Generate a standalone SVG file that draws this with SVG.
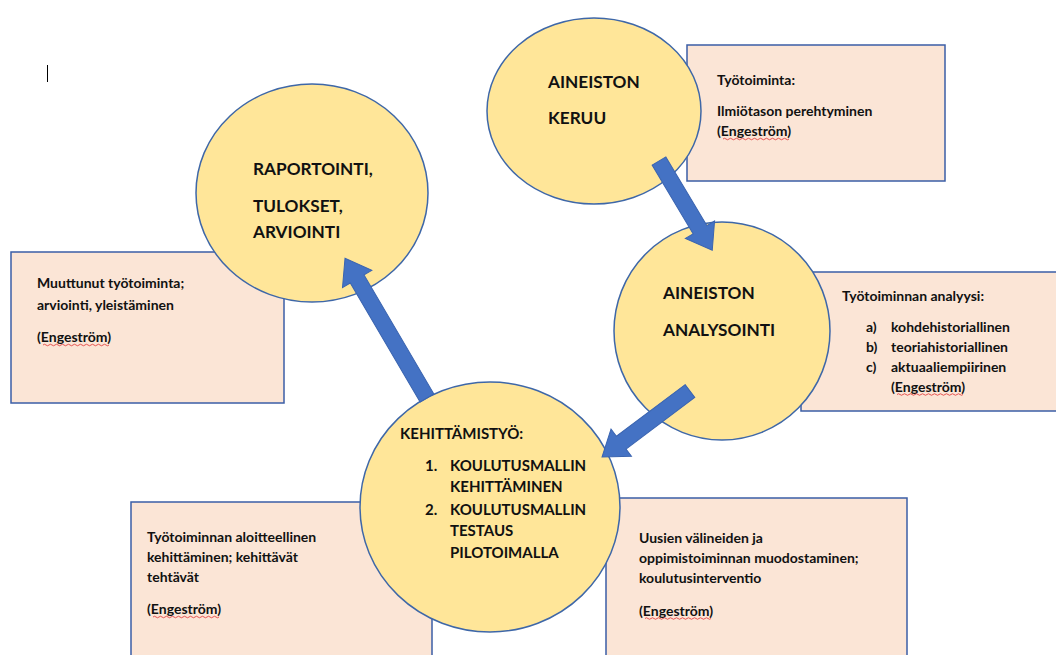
<svg xmlns="http://www.w3.org/2000/svg" xmlns:xlink="http://www.w3.org/1999/xlink" width="1056" height="655" viewBox="0 0 1056 655">
  <style>
    .box { fill: #FBE5D6; stroke: #3B5EA6; stroke-width: 1.5; }
    .stage { fill: #FFE699; stroke: #3E67A8; stroke-width: 1.5; }
    .arrow { fill: #4472C4; stroke: #3A64B0; stroke-width: 1; }
    .t { font-family: Lato, "Liberation Sans", sans-serif; font-weight: bold; fill: #111; }
    .sm { font-size: 14px; }
    .lg { font-size: 17.2px; }
    .md { font-size: 15px; }
    .squig { fill: none; stroke: #E03030; stroke-width: 0.8; }
  </style>
  <defs>
    <!-- spell-check wavy underline, 66px long -->
    <path id="wave" class="squig" d="M0,0 q1.5,-1.5 3,0 t3,0 t3,0 t3,0 t3,0 t3,0 t3,0 t3,0 t3,0 t3,0 t3,0 t3,0 t3,0 t3,0 t3,0 t3,0 t3,0 t3,0 t3,0 t3,0 t3,0 t3,0"/>
  </defs>

  <rect width="1056" height="655" fill="#FFFFFF"/>

  <!-- text cursor -->
  <line x1="47.5" y1="65" x2="47.5" y2="82" stroke="#000" stroke-width="1"/>

  <!-- description boxes -->
  <g id="box-muuttunut">
    <rect class="box" x="11" y="252" width="273" height="151"/>
    <text class="t sm" x="37" y="288">Muuttunut työtoiminta;</text>
    <text class="t sm" x="37" y="310">arviointi, yleistäminen</text>
    <text class="t sm" x="37" y="342">(Engeström)</text>
    <use xlink:href="#wave" x="43" y="345"/>
  </g>

  <g id="box-tyotoiminta">
    <rect class="box" x="687" y="45" width="258" height="136"/>
    <text class="t sm" x="717" y="85">Työtoiminta:</text>
    <text class="t sm" x="717" y="115.5">Ilmiötason perehtyminen</text>
    <text class="t sm" x="717" y="136">(Engeström)</text>
    <use xlink:href="#wave" x="723" y="139"/>
  </g>

  <g id="box-analyysi">
    <rect class="box" x="801" y="272" width="260" height="139"/>
    <text class="t sm" x="842" y="301">Työtoiminnan analyysi:</text>
    <text class="t sm" x="866" y="332">a)</text>
    <text class="t sm" x="891" y="332">kohdehistoriallinen</text>
    <text class="t sm" x="866" y="352">b)</text>
    <text class="t sm" x="891" y="352">teoriahistoriallinen</text>
    <text class="t sm" x="866" y="372">c)</text>
    <text class="t sm" x="891" y="372">aktuaaliempiirinen</text>
    <text class="t sm" x="891" y="391.5">(Engeström)</text>
    <use xlink:href="#wave" x="897" y="394.5"/>
  </g>

  <g id="box-aloitteellinen">
    <rect class="box" x="131" y="502" width="301" height="160"/>
    <text class="t sm" x="147" y="541.5">Työtoiminnan aloitteellinen</text>
    <text class="t sm" x="147" y="561.5">kehittäminen; kehittävät</text>
    <text class="t sm" x="147" y="581.5">tehtävät</text>
    <text class="t sm" x="147" y="614">(Engeström)</text>
    <use xlink:href="#wave" x="153" y="617"/>
  </g>

  <g id="box-uusien">
    <rect class="box" x="606" y="498" width="301" height="164"/>
    <text class="t sm" x="639" y="543">Uusien välineiden ja</text>
    <text class="t sm" x="639" y="563">oppimistoiminnan muodostaminen;</text>
    <text class="t sm" x="639" y="583">koulutusinterventio</text>
    <text class="t sm" x="639" y="615.5">(Engeström)</text>
    <use xlink:href="#wave" x="645" y="618.5"/>
  </g>

  <!-- process stages -->
  <g id="stage-raportointi">
    <ellipse class="stage" cx="312" cy="193" rx="116" ry="109"/>
    <text class="t lg" x="253" y="175">RAPORTOINTI,</text>
    <text class="t lg" x="253" y="211.5">TULOKSET,</text>
    <text class="t lg" x="253" y="237.5">ARVIOINTI</text>
  </g>

  <g id="stage-keruu">
    <ellipse class="stage" cx="594" cy="111" rx="107" ry="93"/>
    <text class="t lg" x="548" y="87.5">AINEISTON</text>
    <text class="t lg" x="548" y="123.5">KERUU</text>
  </g>

  <g id="stage-analysointi">
    <ellipse class="stage" cx="722" cy="331" rx="108" ry="109"/>
    <text class="t lg" x="663" y="298.5">AINEISTON</text>
    <text class="t lg" x="663" y="336">ANALYSOINTI</text>
  </g>

  <g id="stage-kehittamistyo">
    <ellipse class="stage" cx="490" cy="507" rx="130" ry="125"/>
    <text class="t md" x="400" y="439">KEHITTÄMISTYÖ:</text>
    <text class="t md" x="425" y="471">1.</text>
    <text class="t md" x="450" y="471">KOULUTUSMALLIN</text>
    <text class="t md" x="450" y="492">KEHITTÄMINEN</text>
    <text class="t md" x="425" y="514.5">2.</text>
    <text class="t md" x="450" y="514.5">KOULUTUSMALLIN</text>
    <text class="t md" x="450" y="536">TESTAUS</text>
    <text class="t md" x="450" y="558">PILOTOIMALLA</text>
  </g>

  <!-- block arrows between stages -->
  <g id="connectors">
    <path class="arrow" transform="translate(659,161) rotate(59.2)" d="M0,-8 H80 V-17 L104,0 L80,17 V8 H0 Z"/>
    <path class="arrow" transform="translate(690,391) rotate(143.1)" d="M0,-8 H86 V-17 L110,0 L86,17 V8 H0 Z"/>
    <path class="arrow" transform="translate(427,398) rotate(-120.4)" d="M0,-8 H138 V-17 L162,0 L138,17 V8 H0 Z"/>
  </g>
</svg>
